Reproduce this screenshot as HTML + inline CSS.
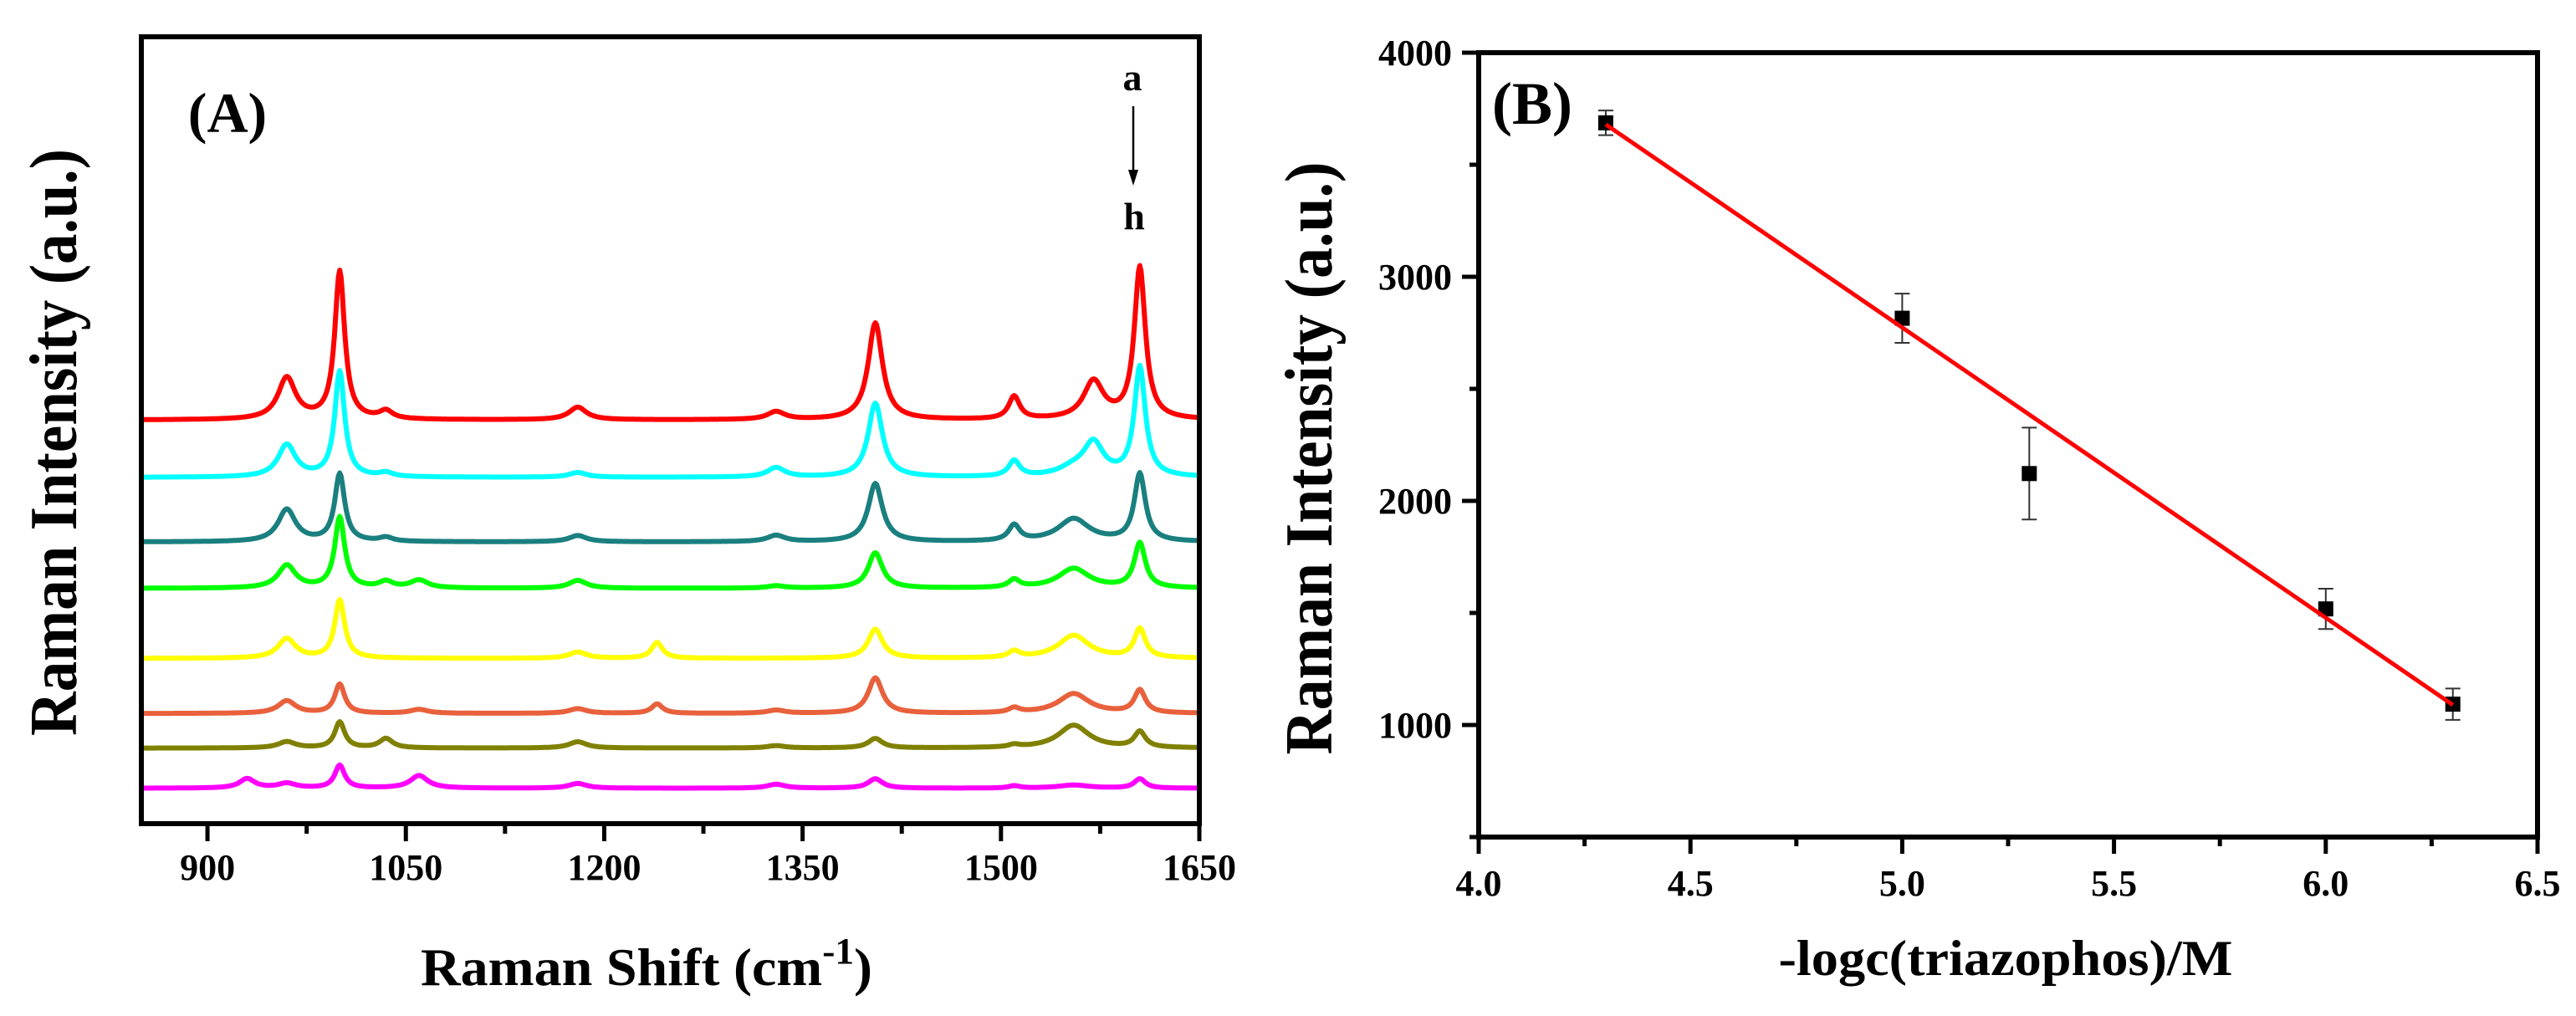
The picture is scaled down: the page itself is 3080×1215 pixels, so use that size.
<!DOCTYPE html>
<html><head><meta charset="utf-8"><style>
html,body{margin:0;padding:0;background:#fff;overflow:hidden;}
svg{display:block;}
text{font-family:"Liberation Serif",serif;font-weight:bold;fill:#000;}
</style></head><body>
<svg id="fig" width="3080" height="1215" viewBox="0 0 3080 1215" xmlns="http://www.w3.org/2000/svg">
<g id="pa"></g>
<g id="pb"></g>
</svg>
<script>
// ---- Panel A data ----
const seriesNames = ['a','b','c','d','e','f','g','h'];
const seriesColors = ['#ff0000','#00ffff','#1a7f7f','#00ff00','#ffff00','#e8603c','#808000','#ff00ff'];
const seriesOffsets = [51.3,44.0,35.8,29.9,21.0,14.0,9.6,4.5];
const peakPositions = [930,960,1000,1035,1060,1180,1240,1330,1405,1510,1555,1570,1605];
const peakWidths    = [7,8,4.5,6,8,8,5,8,6.5,5,14,9,5];
const peakHeights = [
  [0,5.3,18.8,1.0,0,1.6,0,1.0,12.3,2.9,0,4.8,19.3],
  [0,4.1,13.4,0.5,0,0.6,0,1.2,9.4,2.0,1.0,4.1,13.9],
  [0,4.1,8.6,0.5,0,0.8,0,0.8,7.4,2.0,2.9,0,8.6],
  [0,2.9,9.0,0.8,1.0,1.0,0,0.3,4.5,1.0,2.5,0,5.7],
  [0,2.5,7.4,0,0,0.8,2.0,0,3.7,0.8,2.9,0,3.7],
  [0,1.6,3.7,0,0.5,0.6,1.2,0.4,4.5,0.6,2.5,0,2.9],
  [0,0.8,3.3,1.2,0,0.8,0,0.3,1.2,0.3,2.9,0,2.0],
  [1.2,0.6,2.9,0,1.6,0.6,0,0.5,1.2,0.3,0.4,0,1.2]
];
const xTicksA = [900,1050,1200,1350,1500,1650];
const xMinorA = [975,1125,1275,1425,1575];
// ---- Panel B data ----
const concX = [4.3,5.0,5.3,6.0,6.3];
const intensityY = [3687,2815,2122,1518,1093];
const errorY = [55,110,205,90,70];
const fitX = [4.3,6.3];
const fitY = [3680,1090];
const xTicksB = ['4.0','4.5','5.0','5.5','6.0','6.5'];
const yTicksB = [1000,2000,3000,4000];
const yMinorB = [500,1500,2500,3500];

const NS='http://www.w3.org/2000/svg';
function mk(parent,tag,attrs,txt){const e=document.createElementNS(NS,tag);for(const k in attrs)e.setAttribute(k,attrs[k]);if(txt!==undefined)e.textContent=txt;parent.appendChild(e);return e;}

// Panel A
const pa=document.getElementById('pa');
const AL=169,AR=1434,AT=44,AB=985;
const xA=v=>AL+(v-850)/(1650-850)*(AR-AL);
const yA=v=>AB-v*(AB-AT)/100;
for(let s=0;s<seriesNames.length;s++){
  let d='';
  for(let w=850;w<=1650;w+=1){
    let v=seriesOffsets[s];
    for(let p=0;p<peakPositions.length;p++){const g=peakWidths[p];const dx=w-peakPositions[p];v+=peakHeights[s][p]*g*g/(dx*dx+g*g);}
    d+=(w===850?'M':'L')+xA(w).toFixed(1)+' '+yA(v).toFixed(1);
  }
  const p=mk(pa,'path',{d:d,fill:'none',stroke:seriesColors[s],'stroke-width':6,'stroke-linejoin':'round'});
  
  
}
const fa=mk(pa,'rect',{x:AL,y:AT,width:AR-AL,height:AB-AT,fill:'none',stroke:'#000','stroke-width':6});


xTicksA.forEach(t=>{
  const x=xA(t);
  const l=mk(pa,'line',{x1:x,y1:AB,x2:x,y2:AB+21,stroke:'#000','stroke-width':5});
  
  
  const tx=mk(pa,'text',{x:x,y:1052,'font-size':44,'text-anchor':'middle'},String(t));
  
  
});
xMinorA.forEach(t=>{
  const l=mk(pa,'line',{x1:xA(t),y1:AB,x2:xA(t),y2:AB+12,stroke:'#000','stroke-width':5});
  
  
});

let t;
t=mk(pa,'text',{x:272,y:158,'font-size':68,'text-anchor':'middle'},'(A)');


t=mk(pa,'text',{x:1354,y:108,'font-size':46,'text-anchor':'middle'},'a');


t=mk(pa,'text',{x:1356,y:274,'font-size':46,'text-anchor':'middle'},'h');


t=mk(pa,'line',{x1:1355,y1:127,x2:1355,y2:205,stroke:'#000','stroke-width':2.5});


mk(pa,'polygon',{points:'1349,203 1361,203 1355,222',fill:'#000'});
t=mk(pa,'text',{x:773,y:1178,'font-size':64,'text-anchor':'middle',textLength:540,lengthAdjust:'spacingAndGlyphs'});


t.appendChild(document.createTextNode('Raman Shift (cm'));
mk(t,'tspan',{dy:-26,'font-size':44},'-1');
mk(t,'tspan',{dy:26},')');
t=mk(pa,'text',{x:0,y:0,'font-size':80,'text-anchor':'middle',transform:'translate(91,529) rotate(-90)',textLength:702,lengthAdjust:'spacingAndGlyphs'},'Raman Intensity (a.u.)');



// Panel B
const pb=document.getElementById('pb');
const BL=1768,BR=3034,BT=63,BB=1001;
const xB=v=>BL+(v-4.0)/2.5*(BR-BL);
const yB=v=>BB-(v-500)/3500*(BB-BT);
t=mk(pb,'rect',{x:BL,y:BT,width:BR-BL,height:BB-BT,fill:'none',stroke:'#000','stroke-width':6});


xTicksB.forEach((lab,i)=>{
  const x=xB(parseFloat(lab));
  const l=mk(pb,'line',{x1:x,y1:BB,x2:x,y2:BB+20,stroke:'#000','stroke-width':5});
  
  
  if(i<xTicksB.length-1){
    const m=mk(pb,'line',{x1:xB(parseFloat(lab)+0.25),y1:BB,x2:xB(parseFloat(lab)+0.25),y2:BB+11,stroke:'#000','stroke-width':5});
    
    
  }
  const tx=mk(pb,'text',{x:x,y:1071,'font-size':44,'text-anchor':'middle'},lab);
  
  
});
yTicksB.forEach(v=>{
  const y=yB(v);
  const l=mk(pb,'line',{x1:BL-20,y1:y,x2:BL,y2:y,stroke:'#000','stroke-width':5});
  
  
  const tx=mk(pb,'text',{x:1736,y:y+15,'font-size':44,'text-anchor':'end'},String(v));
  
  
});
yMinorB.forEach(v=>{
  const l=mk(pb,'line',{x1:BL-11,y1:yB(v),x2:BL,y2:yB(v),stroke:'#000','stroke-width':5});
  
  
});
concX.forEach((c,i)=>{
  const x=xB(c),y=yB(intensityY[i]),y1=yB(intensityY[i]+errorY[i]),y2=yB(intensityY[i]-errorY[i]);
  const g=mk(pb,'g',{stroke:'#333','stroke-width':2});
  
  
  mk(g,'line',{x1:x,y1:y1,x2:x,y2:y2});
  mk(g,'line',{x1:x-9,y1:y1,x2:x+9,y2:y1});
  mk(g,'line',{x1:x-9,y1:y2,x2:x+9,y2:y2});
  const r=mk(pb,'rect',{x:x-9,y:y-9,width:18,height:18,fill:'#000'});
  
  
});
t=mk(pb,'line',{x1:xB(fitX[0]),y1:yB(fitY[0]),x2:xB(fitX[1]),y2:yB(fitY[1]),stroke:'#ff0000','stroke-width':5});


t=mk(pb,'text',{x:1832,y:148,'font-size':72,'text-anchor':'middle'},'(B)');


t=mk(pb,'text',{x:2398,y:1166,'font-size':60,'text-anchor':'middle',textLength:543,lengthAdjust:'spacingAndGlyphs'},'-logc(triazophos)/M');


t=mk(pb,'text',{x:0,y:0,'font-size':80,'text-anchor':'middle',transform:'translate(1592,548) rotate(-90)',textLength:709,lengthAdjust:'spacingAndGlyphs'},'Raman Intensity (a.u.)');


</script>
</body></html>
